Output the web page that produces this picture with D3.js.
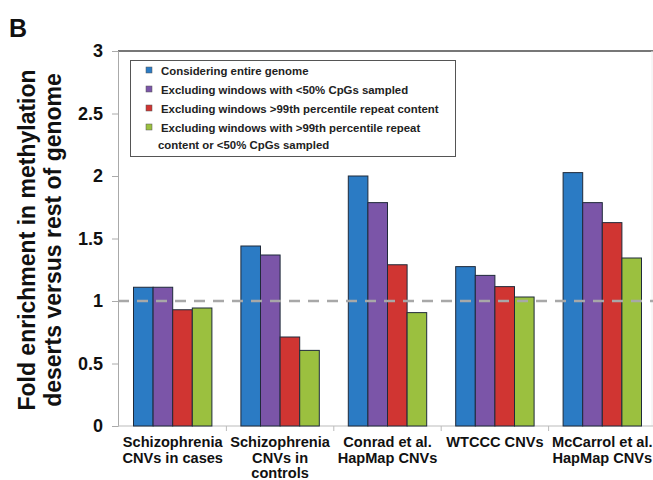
<!DOCTYPE html>
<html lang="en">
<head>
  <meta charset="UTF-8">
  <title>Fold enrichment in methylation deserts</title>
  <script src="https://d3js.org/d3.v7.min.js"></script>
  <style>
    body { margin: 0; background: #fff; }
    text { font-family: Arial, "Liberation Sans", sans-serif; font-weight: bold; fill: #111; }
    .tick text { font-size: 18px; }
    .legend text { font-size: 11.4px; fill: #222; }
  </style>
</head>
<body>
  <svg id="chart" width="653" height="480"></svg>

  <script>
    const categories = [
      ["Schizophrenia", "CNVs in cases"],
      ["Schizophrenia", "CNVs in", "controls"],
      ["Conrad et al.", "HapMap CNVs"],
      ["WTCCC CNVs"],
      ["McCarrol et al.", "HapMap CNVs"]
    ];
    const seriesNames = [
      ["Considering entire genome"],
      ["Excluding windows with <50% CpGs sampled"],
      ["Excluding windows >99th percentile repeat content"],
      ["Excluding windows with >99th percentile repeat", "content or <50% CpGs sampled"]
    ];
    const colors = ["#2b7bc4", "#7b55a8", "#d03532", "#9bc03f"];
    const entireGenome = [1.11, 1.44, 2.0, 1.275, 2.027];
    const lowCpG = [1.11, 1.368, 1.787, 1.205, 1.787];
    const highRepeat = [0.93, 0.712, 1.29, 1.115, 1.627];
    const both = [0.944, 0.605, 0.907, 1.032, 1.344];
    const yTicks = [0, 0.5, 1, 1.5, 2, 2.5, 3];
    const yTickLabels = ["0", "0.5", "1", "1.5", "2", "2.5", "3"];

    const series = [entireGenome, lowCpG, highRepeat, both];

    const svg = d3.select("#chart");
    const plotL = 118, plotR = 656, plotT = 51, plotB = 426;

    const x = d3.scaleBand().domain(d3.range(categories.length)).range([plotL + 1, plotR]).paddingInner(0.27).paddingOuter(0.135);
    const xs = d3.scaleBand().domain(d3.range(series.length)).range([0, x.bandwidth()]);
    const y = d3.scaleLinear().domain([0, 3]).range([plotB, plotT]);

    // panel letter
    svg.append("text").attr("x", 9).attr("y", 37).style("font-size", "25px").text("B");

    // top frame line + faint right border
    svg.append("line").attr("x1", plotL).attr("x2", 653).attr("y1", plotT).attr("y2", plotT)
      .attr("stroke", "#777").attr("stroke-width", 2);
    svg.append("line").attr("x1", 652).attr("x2", 652).attr("y1", plotT).attr("y2", plotB)
      .attr("stroke", "#eee").attr("stroke-width", 1);

    // y axis
    const yAxis = svg.append("g").attr("transform", `translate(${plotL},0)`)
      .call(d3.axisLeft(y).tickValues(yTicks).tickFormat((d, i) => yTickLabels[i]).tickSize(6).tickPadding(9));
    yAxis.select(".domain").attr("stroke", "#aaa");
    yAxis.selectAll(".tick line").attr("stroke", "#aaa");
    yAxis.selectAll(".tick text").attr("fill", "#111").style("font-family", "Arial, 'Liberation Sans', sans-serif");

    // x axis with ticks between groups
    const xAxisG = svg.append("g").attr("transform", `translate(0,${plotB})`);
    xAxisG.append("line").attr("x1", plotL).attr("x2", 653).attr("stroke", "#bbb");
    const step = x.step();
    const bounds = d3.range(categories.length + 1).map(i => x(0) - x.paddingInner() * step / 2 + i * step);
    xAxisG.selectAll("line.b").data(bounds.slice(1)).join("line").attr("class", "b")
      .attr("x1", d => d).attr("x2", d => d).attr("y1", 0).attr("y2", 5).attr("stroke", "#bbb");

    // bars
    series.forEach((vals, s) => {
      svg.append("g").selectAll("rect").data(vals).join("rect")
        .attr("x", (d, i) => x(i) + xs(s))
        .attr("y", d => y(d))
        .attr("width", xs.bandwidth())
        .attr("height", d => y(0) - y(d))
        .attr("fill", colors[s])
        .attr("stroke", "#1f2a3a")
        .attr("stroke-width", 1);
    });

    // reference line at 1
    svg.append("line").attr("x1", plotL).attr("x2", 653).attr("y1", y(1)).attr("y2", y(1))
      .attr("stroke", "#a8a8a8").attr("stroke-width", 2.5).attr("stroke-dasharray", "11,8");

    // category labels
    categories.forEach((lines, i) => {
      const t = svg.append("text").attr("text-anchor", "middle").style("font-size", "14.6px");
      lines.forEach((ln, j) => {
        t.append("tspan").attr("x", x(i) + x.bandwidth() / 2).attr("y", 447 + j * 15.5).text(ln);
      });
    });

    // y axis title
    const yt = svg.append("text").attr("text-anchor", "middle")
      .attr("transform", "translate(35,240) rotate(-90)").style("font-size", "23px");
    yt.append("tspan").attr("x", 0).attr("y", 0).text("Fold enrichment in methylation");
    yt.append("tspan").attr("x", 0).attr("y", 26).text("deserts versus rest of genome");

    // legend
    const lg = svg.append("g").attr("class", "legend");
    lg.append("rect").attr("x", 130.5).attr("y", 60.5).attr("width", 325).attr("height", 96)
      .attr("fill", "#fff").attr("stroke", "#555").attr("stroke-width", 1);
    let ly = 75;
    seriesNames.forEach((lines, s) => {
      lg.append("rect").attr("x", 146).attr("y", ly - 8).attr("width", 6).attr("height", 6)
        .attr("fill", colors[s]).attr("stroke", "#555").attr("stroke-width", 0.5);
      lines.forEach((ln, j) => {
        lg.append("text").attr("x", j === 0 ? 161 : 158).attr("y", ly + j * 17).text(ln);
      });
      ly += 19;
    });
  </script>
</body>
</html>
